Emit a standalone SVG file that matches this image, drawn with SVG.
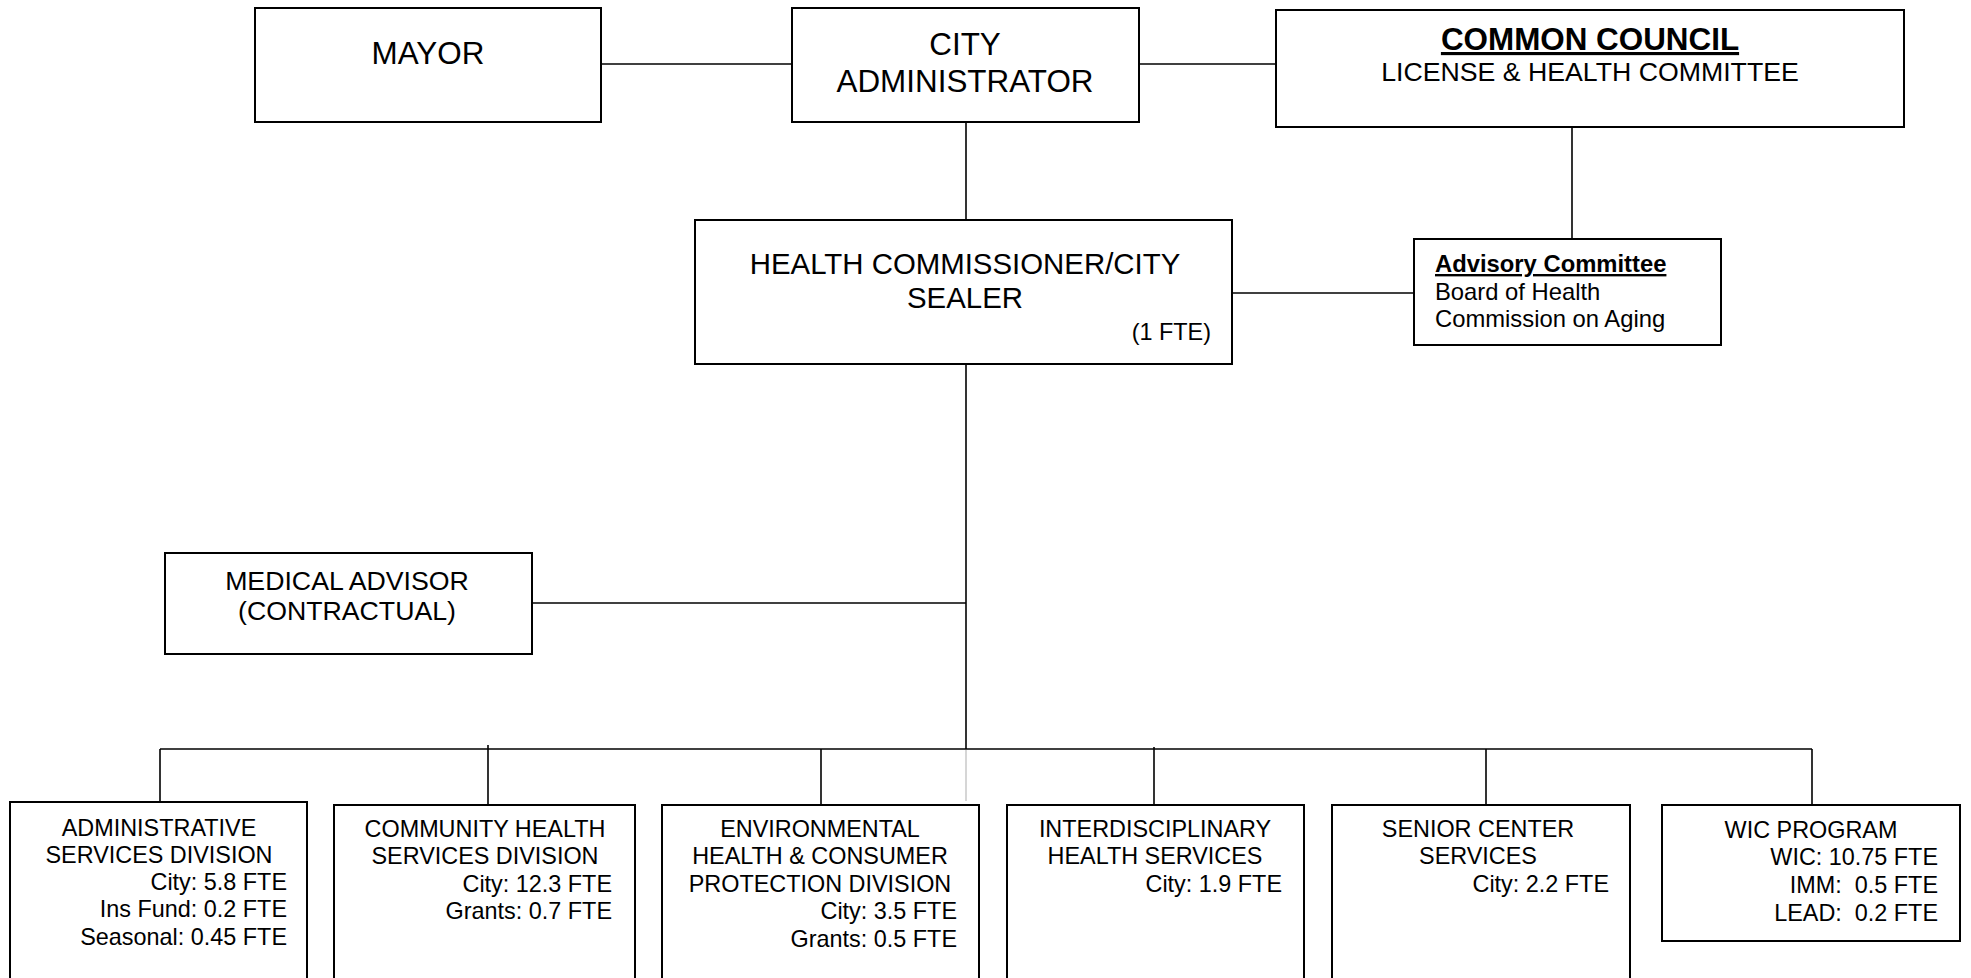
<svg xmlns="http://www.w3.org/2000/svg" width="1971" height="978" viewBox="0 0 1971 978">
<style>
.box{fill:#fff;stroke:#000;stroke-width:2}
.ln{stroke:#000;stroke-width:1.6;fill:none}
text{font-family:"Liberation Sans",Arial,sans-serif;fill:#000}
.c{text-anchor:middle}
.r{text-anchor:end}
.big{font-size:31.4px}
.hc{font-size:29.4px}
.md{font-size:26.7px}
.sm{font-size:23.4px}
.adv{font-size:23.8px}
.b{font-weight:bold}
.u{text-decoration:underline}
</style>
<rect width="1971" height="978" fill="#fff"/>
<g id="connectors">
<line class="ln" x1="601" y1="64" x2="792" y2="64"/>
<line class="ln" x1="1139" y1="64" x2="1276" y2="64"/>
<line class="ln" x1="966" y1="122" x2="966" y2="220"/>
<line class="ln" x1="1572" y1="127" x2="1572" y2="239"/>
<line class="ln" x1="1232" y1="293" x2="1414" y2="293"/>
<line class="ln" x1="966" y1="364" x2="966" y2="749"/>
<line class="ln" x1="532" y1="603" x2="966" y2="603"/>
<line class="ln" x1="160" y1="749" x2="1812" y2="749"/>
<line x1="966" y1="750" x2="966" y2="801" stroke="#c8c8c8" stroke-width="1.5"/>
<line class="ln" x1="160" y1="749" x2="160" y2="802"/>
<line class="ln" x1="488" y1="745" x2="488" y2="805"/>
<line class="ln" x1="821" y1="749" x2="821" y2="805"/>
<line class="ln" x1="1154" y1="747" x2="1154" y2="805"/>
<line class="ln" x1="1486" y1="749" x2="1486" y2="805"/>
<line class="ln" x1="1812" y1="749" x2="1812" y2="805"/>
</g>
<g id="mayor">
<rect class="box" x="255" y="8" width="346" height="114"/>
<text class="big c" x="428" y="64">MAYOR</text>
</g>
<g id="city-administrator">
<rect class="box" x="792" y="8" width="347" height="114"/>
<text class="big c" x="965" y="55">CITY</text>
<text class="big c" x="965" y="92">ADMINISTRATOR</text>
</g>
<g id="common-council">
<rect class="box" x="1276" y="10" width="628" height="117"/>
<text class="big c b u" x="1590" y="50">COMMON COUNCIL</text>
<text class="md c" x="1590" y="81">LICENSE &amp; HEALTH COMMITTEE</text>
</g>
<g id="health-commissioner">
<rect class="box" x="695" y="220" width="537" height="144"/>
<text class="hc c" x="965" y="274">HEALTH COMMISSIONER/CITY</text>
<text class="hc c" x="965" y="308">SEALER</text>
<text class="sm r" x="1211" y="340">(1 FTE)</text>
</g>
<g id="advisory-committee">
<rect class="box" x="1414" y="239" width="307" height="106"/>
<text class="adv b u" x="1435" y="272">Advisory Committee</text>
<text class="adv" x="1435" y="300">Board of Health</text>
<text class="adv" x="1435" y="327">Commission on Aging</text>
</g>
<g id="medical-advisor">
<rect class="box" x="165" y="553" width="367" height="101"/>
<text class="md c" x="347" y="590">MEDICAL ADVISOR</text>
<text class="md c" x="347" y="620">(CONTRACTUAL)</text>
</g>
<g id="administrative-services">
<rect class="box" x="10" y="802" width="297" height="200"/>
<text class="sm c" x="159" y="836">ADMINISTRATIVE</text>
<text class="sm c" x="159" y="863">SERVICES DIVISION</text>
<text class="sm r" x="287" y="890">City: 5.8 FTE</text>
<text class="sm r" x="287" y="917">Ins Fund: 0.2 FTE</text>
<text class="sm r" x="287" y="945">Seasonal: 0.45 FTE</text>
</g>
<g id="community-health">
<rect class="box" x="334" y="805" width="301" height="200"/>
<text class="sm c" x="485" y="837">COMMUNITY HEALTH</text>
<text class="sm c" x="485" y="864">SERVICES DIVISION</text>
<text class="sm r" x="612" y="892">City: 12.3 FTE</text>
<text class="sm r" x="612" y="919">Grants: 0.7 FTE</text>
</g>
<g id="environmental-health">
<rect class="box" x="662" y="805" width="317" height="200"/>
<text class="sm c" x="820" y="837">ENVIRONMENTAL</text>
<text class="sm c" x="820" y="864">HEALTH &amp; CONSUMER</text>
<text class="sm c" x="820" y="892">PROTECTION DIVISION</text>
<text class="sm r" x="957" y="919">City: 3.5 FTE</text>
<text class="sm r" x="957" y="947">Grants: 0.5 FTE</text>
</g>
<g id="interdisciplinary">
<rect class="box" x="1007" y="805" width="297" height="200"/>
<text class="sm c" x="1155" y="837">INTERDISCIPLINARY</text>
<text class="sm c" x="1155" y="864">HEALTH SERVICES</text>
<text class="sm r" x="1282" y="892">City: 1.9 FTE</text>
</g>
<g id="senior-center">
<rect class="box" x="1332" y="805" width="298" height="200"/>
<text class="sm c" x="1478" y="837">SENIOR CENTER</text>
<text class="sm c" x="1478" y="864">SERVICES</text>
<text class="sm r" x="1609" y="892">City: 2.2 FTE</text>
</g>
<g id="wic-program">
<rect class="box" x="1662" y="805" width="298" height="136"/>
<text class="sm c" x="1811" y="838">WIC PROGRAM</text>
<text class="sm r" x="1938" y="865" xml:space="preserve">WIC: 10.75 FTE</text>
<text class="sm r" x="1938" y="893" xml:space="preserve">IMM:  0.5 FTE</text>
<text class="sm r" x="1938" y="921" xml:space="preserve">LEAD:  0.2 FTE</text>
</g>
</svg>
